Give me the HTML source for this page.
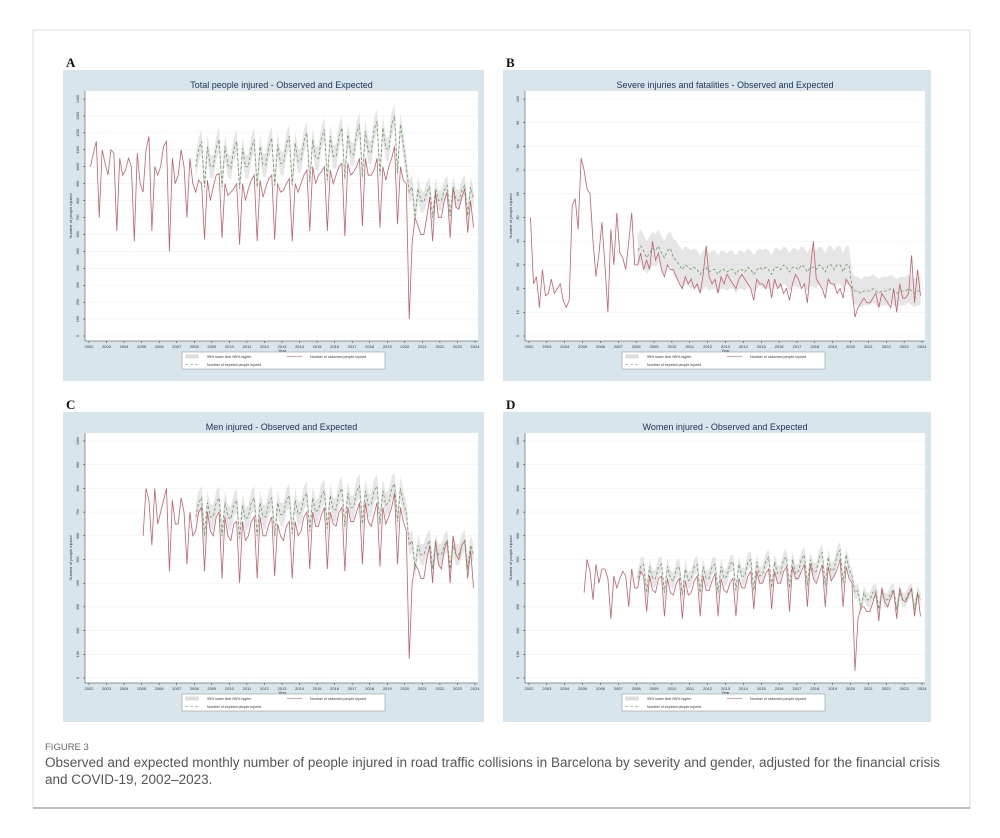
<!DOCTYPE html>
<html><head><meta charset="utf-8"><style>
body{margin:0;background:#fff;width:1000px;height:833px;overflow:hidden;font-family:"Liberation Sans",sans-serif}
</style></head><body>
<svg id="fig" width="1000" height="833" viewBox="0 0 1000 833" xmlns="http://www.w3.org/2000/svg" font-family="Liberation Sans, sans-serif">
<rect x="33" y="30" width="937" height="778" fill="#fff" stroke="#ddd" stroke-width="1"/>
<line x1="33" y1="808" x2="970" y2="808" stroke="#999" stroke-width="1.2"/>
<text x="45" y="750" font-size="9.5" fill="#666">FIGURE 3</text>
<text x="45" y="767" font-size="13.5" fill="#555" textLength="895" lengthAdjust="spacingAndGlyphs">Observed and expected monthly number of people injured in road traffic collisions in Barcelona by severity and gender, adjusted for the financial crisis</text>
<text x="45" y="784" font-size="13.5" fill="#555">and COVID-19, 2002–2023.</text>
</svg>
<script>
// ---- data (bimonthly points: Jan-Feb, Mar-Apr, May-Jun, Jul-Aug, Sep-Oct, Nov-Dec) ----
const years = [2002,2003,2004,2005,2006,2007,2008,2009,2010,2011,2012,2013,2014,2015,2016,2017,2018,2019,2020,2021,2022,2023,2024];
const obsA = [1000,1080,1150,700,1100,1020, 950,1100,1080,620,1050,950, 980,1050,1000,560,1080,900, 850,1100,1180,620,1000,950, 1000,1120,1150,500,1050,900, 950,1100,1000,700,1050,900,
 850,920,900,570,920,800, 880,950,960,580,900,830, 850,870,900,540,900,800, 870,920,950,560,920,820, 880,930,950,570,900,850, 860,900,930,560,900,850,
 900,950,980,620,1000,900, 950,970,1000,620,980,900, 950,1000,1020,590,1020,950, 970,1000,1050,650,1050,950, 950,980,1050,640,1000,920, 1000,1050,1120,660,1000,920,
 900,100,550,700,650,600, 600,700,820,560,850,700, 700,800,850,580,880,760, 750,820,870,610,800,640];
const expA = [1000,1100,1150,880,1120,1000, 1000,1110,1160,880,1120,1010, 990,1100,1150,870,1110,1000, 1000,1110,1160,880,1120,1010, 1010,1120,1170,890,1130,1020, 1020,1130,1180,890,1140,1030,
 1040,1150,1200,910,1160,1050, 1050,1170,1220,920,1180,1060, 1060,1180,1230,930,1190,1080, 1070,1200,1250,940,1210,1090, 1080,1220,1270,950,1230,1110, 1100,1250,1300,960,1250,1130,
 1000,850,880,700,870,800, 790,850,880,700,870,800, 800,860,890,710,880,810, 800,860,890,710,880,810];
const bandA = [70,70,70,70,70,70,70,70,70,70,70,70,70,60,60,60];
const obsB = [50,22,25,12,28,17, 18,24,18,20,22,15, 12,15,55,58,45,75, 70,62,60,40,25,35, 48,30,10,45,30,52, 35,33,28,40,52,30,
 30,35,28,32,28,40, 32,35,28,25,30,28, 28,25,22,20,25,22, 24,20,22,18,26,38, 25,22,24,18,25,22, 26,24,22,20,24,26,
 24,22,20,15,24,22, 22,20,24,16,24,20, 22,18,20,15,22,26, 24,20,22,14,28,40, 24,22,20,16,24,22, 22,18,20,16,24,22,
 20,8,12,14,16,14, 14,16,18,12,18,16, 14,12,20,10,22,16, 16,18,34,14,28,17];
const expB = [36,38,36,33,35,37, 36,38,35,33,36,37, 33,32,30,28,30,29, 28,29,28,26,28,29, 27,28,28,26,28,28, 27,28,28,26,28,28,
 27,29,28,26,28,29, 28,29,28,26,29,29, 28,30,29,27,29,29, 28,30,29,27,29,29, 28,30,29,27,30,30, 28,30,30,27,30,30,
 21,19,19,18,19,19, 19,20,19,18,19,19, 19,20,19,18,19,19, 19,20,19,18,19,19];
const bandB = [7,7,8,8,8,8,8,8,8,8,8,8,6,6,6,6];
const obsC = [600,800,750,560,800,650, 700,750,800,450,750,650, 650,760,700,480,700,600,
 620,700,720,450,700,620, 600,680,700,420,680,600, 580,650,660,400,660,580, 600,660,680,420,680,600, 600,650,680,430,650,600, 580,640,660,420,660,600,
 620,680,700,460,700,640, 640,690,720,460,700,650, 640,700,720,450,720,660, 660,700,740,480,740,660, 640,690,740,470,720,650, 680,720,780,480,720,660,
 620,80,400,480,460,420, 420,500,560,400,580,480, 460,540,580,400,600,520, 500,560,580,420,540,380];
const expC = [680,740,760,600,740,680, 680,740,760,600,740,680, 670,730,750,590,730,670, 680,740,760,600,740,680, 680,740,760,600,740,690, 690,750,770,610,750,690,
 700,760,780,620,760,700, 710,770,790,630,770,710, 710,780,800,640,780,720, 720,790,810,650,790,730, 730,790,810,650,790,730, 740,800,820,660,800,740,
 700,560,580,460,560,520, 520,560,580,460,560,520, 520,560,580,460,560,520, 520,560,580,460,560,520];
const bandC = [50,50,50,50,50,50,50,50,50,50,50,50,45,45,45,45];
const obsD = [360,500,450,330,480,400, 460,460,420,250,430,380, 420,450,430,300,460,380,
 380,450,430,280,430,370, 360,420,430,260,420,360, 350,400,420,250,410,350, 360,410,430,260,430,370, 370,410,440,260,420,370, 360,400,420,260,420,380,
 380,430,450,290,450,400, 400,440,460,290,450,400, 400,450,470,280,470,420, 420,450,480,300,480,420, 400,440,480,300,470,410, 430,460,500,300,470,420,
 400,30,250,300,300,280, 280,320,360,240,380,320, 300,340,370,250,380,330, 320,350,380,260,360,260];
const expD = [420,470,480,360,470,420, 420,470,480,360,470,420, 410,460,470,350,460,410, 420,470,480,360,470,420, 420,470,480,360,470,420, 430,480,490,370,480,430,
 430,490,500,370,490,430, 440,490,510,380,490,440, 440,500,510,380,500,440, 450,500,520,390,500,450, 450,510,530,390,510,450, 460,520,540,400,520,460,
 430,360,370,290,360,330, 330,360,370,290,360,330, 330,360,370,290,360,330, 330,360,370,290,360,330];
const bandD = [35,35,35,35,35,35,35,35,35,35,35,35,30,30,30,30];

const NS = "http://www.w3.org/2000/svg";
const svg = document.getElementById('fig');
function mk(tag, attrs, parent){const e=document.createElementNS(NS,tag);for(const k in attrs)e.setAttribute(k,attrs[k]);(parent||svg).appendChild(e);return e;}

function panel(cfg){
  const {px,py,w,h,label,title,yMax,yStep,obs,obsStart,exp,band,key}=cfg;
  const g=mk('g',{});
  
  
  const lab=mk('text',{x:px+3,y:py-3,'font-size':13,'font-weight':'bold','font-family':'Liberation Serif, serif',fill:'#111'},g);
  lab.textContent=label;
  
  
  const bg=mk('rect',{x:px,y:py,width:w,height:h,fill:'#d9e5ec'},g);
  
  
  const L=px+22, R=px+w-6, T=py+21, B=py+271;
  const pa=mk('rect',{x:L,y:T,width:R-L,height:B-T,fill:'#fff'},g);
  
  
  const xs=t=>L+4+(t-2002)/22*(R-L-7);
  const ys=v=>py+266-v/yMax*237;
  const tt=mk('text',{x:(L+R)/2,y:py+18,'font-size':9,'text-anchor':'middle',fill:'#1f3059'},g);
  tt.textContent=title;
  
  
  for(let v=0;v<=yMax;v+=yStep){
    const y=ys(v);
    const gl=mk('line',{x1:L,x2:R,y1:y,y2:y,stroke:'#eef2f5','stroke-width':0.6},g);
    
    
    mk('line',{x1:L-2,x2:L,y1:y,y2:y,stroke:'#333','stroke-width':0.5},g);
    const tl=mk('text',{x:L-6,y:y,'font-size':3.6,'text-anchor':'middle',fill:'#333',transform:`rotate(-90 ${L-6} ${y})`},g);
    tl.textContent=v;
    
    
  }
  mk('line',{x1:L,x2:L,y1:T,y2:B,stroke:'#333','stroke-width':0.5},g);
  mk('line',{x1:L,x2:R,y1:B,y2:B,stroke:'#333','stroke-width':0.5},g);
  const yt=mk('text',{x:L-13,y:(T+B)/2,'font-size':4,'text-anchor':'middle',fill:'#333',transform:`rotate(-90 ${L-13} ${(T+B)/2})`},g);
  yt.textContent='Number of people injured';
  
  
  years.forEach(yr=>{
    const x=xs(yr);
    mk('line',{x1:x,x2:x,y1:B,y2:B+2,stroke:'#333','stroke-width':0.5},g);
    const xl=mk('text',{x:x,y:B+7,'font-size':4,'text-anchor':'middle',fill:'#333'},g);
    xl.textContent=yr;
    
    
  });
  const xt=mk('text',{x:xs(2013),y:B+11,'font-size':4,'text-anchor':'middle',fill:'#333'},g);
  xt.textContent='Year';
  
  
  const tExp=i=>2008+(i+0.5)/6;
  let up=[],lo=[];
  exp.forEach((v,i)=>{const b=band[Math.floor(i/6)];up.push(xs(tExp(i))+','+ys(v+b));lo.unshift(xs(tExp(i))+','+ys(v-b));});
  const bp=mk('polygon',{points:up.concat(lo).join(' '),fill:'#d6d6d6','fill-opacity':0.6,stroke:'none'},g);
  
  
  const op=mk('polyline',{points:obs.map((v,i)=>xs(obsStart+(i+0.5)/6)+','+ys(v)).join(' '),fill:'none',stroke:'#c0606c','stroke-width':0.8},g);
  
  
  const ep=mk('polyline',{points:exp.map((v,i)=>xs(tExp(i))+','+ys(v)).join(' '),fill:'none',stroke:'#6f9a63','stroke-width':0.8,'stroke-dasharray':'3,2'},g);
  
  
  const lx=px+119, ly=py+282;
  const lg=mk('rect',{x:lx,y:ly,width:203,height:17,fill:'#fff',stroke:'#888','stroke-width':0.5},g);
  
  
  mk('rect',{x:lx+3,y:ly+2.5,width:14,height:4,fill:'#ddd'},g);
  mk('line',{x1:lx+3,x2:lx+17,y1:ly+12.5,y2:ly+12.5,stroke:'#6f9a63','stroke-width':0.6,'stroke-dasharray':'3,2'},g);
  mk('line',{x1:lx+105,x2:lx+120,y1:ly+4.5,y2:ly+4.5,stroke:'#c0606c','stroke-width':0.6},g);
  const l1=mk('text',{x:lx+25,y:ly+6,'font-size':3.6,fill:'#333'},g);l1.textContent='95% lower limit /95% higher';
  
  
  const l2=mk('text',{x:lx+25,y:ly+14,'font-size':3.6,fill:'#333'},g);l2.textContent='Number of expeted people injured';
  
  
  const l3=mk('text',{x:lx+128,y:ly+6,'font-size':3.6,fill:'#333'},g);l3.textContent='Number of observed people injured';
  
  
}
panel({key:'total',px:63,py:70,w:421,h:311,label:'A',title:'Total people injured - Observed and Expected',yMax:1400,yStep:100,obs:obsA,obsStart:2002,exp:expA,band:bandA});
panel({key:'severe',px:503,py:70,w:428,h:311,label:'B',title:'Severe injuries and fatalities - Observed and Expected',yMax:100,yStep:10,obs:obsB,obsStart:2002,exp:expB,band:bandB});
panel({key:'men',px:63,py:412,w:421,h:310,label:'C',title:'Men injured - Observed and Expected',yMax:1000,yStep:100,obs:obsC,obsStart:2005,exp:expC,band:bandC});
panel({key:'women',px:503,py:412,w:428,h:310,label:'D',title:'Women injured - Observed and Expected',yMax:1000,yStep:100,obs:obsD,obsStart:2005,exp:expD,band:bandD});
</script>
</body></html>
